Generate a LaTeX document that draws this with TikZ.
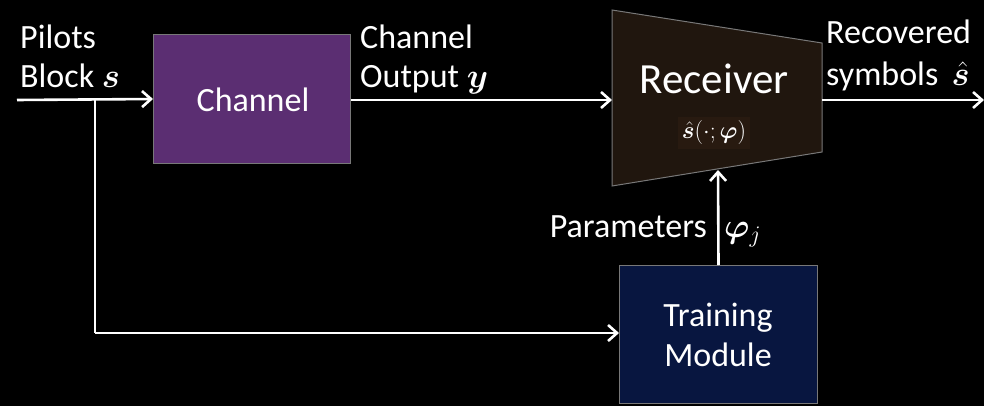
\RequirePackage{fix-cm}
\documentclass[tikz,border=0pt]{standalone}
\usepackage{amsmath,bm}
\usepackage{fontspec}
\setmainfont{Carlito}
\usetikzlibrary{arrows.meta}
\definecolor{chanpurple}{RGB}{91,46,114}
\definecolor{recbrown}{RGB}{32,22,14}
\definecolor{mathbg}{RGB}{40,26,16}
\definecolor{trainnavy}{RGB}{8,22,64}
\definecolor{glow}{RGB}{120,120,120}
\tikzset{
  conn/.style={draw=white, line width=2.6pt, -{Straight Barb[length=9pt,width=16pt,line width=2.6pt]}},
  plain/.style={draw=white, line width=2.6pt},
  lbl/.style={text=white, font=\fontsize{34}{40}\selectfont, inner sep=0pt},
  blk/.style={draw=glow, line width=1pt, inner sep=0pt},
}
\begin{document}
\begin{tikzpicture}[x=1pt,y=-1pt]
\fill[black] (0,0) rectangle (984,406);
\useasboundingbox (0,0) rectangle (984,406);
% Channel
\node[blk, fill=chanpurple, minimum width=197pt, minimum height=129pt, anchor=north west] (ch) at (153,34) {};
\node[lbl] (chl) at (253,100) {Channel};
% Receiver trapezoid
\coordinate (r1) at (612,10);
\coordinate (r2) at (822,43);
\coordinate (r3) at (822,152);
\coordinate (r4) at (612,186);
\draw[glow, line width=1pt, fill=recbrown] (r1) -- (r2) -- (r3) -- (r4) -- cycle;
\coordinate (rin) at (612,100);
\coordinate (rout) at (822,100);
\coordinate (rbot) at (718,170);
\node[lbl, font=\fontsize{43}{50}\selectfont, anchor=base] (rl) at (714,94) {Receiver};
\node[fill=mathbg, text=white, inner sep=4pt, font=\fontsize{24}{28}\selectfont] (rm) at (714,133) {$\hat{\bm{s}}(\cdot;\bm{\varphi})$};
% Training module
\node[blk, fill=trainnavy, minimum width=198pt, minimum height=138pt, anchor=north west] (tm) at (619,265) {};
\node[lbl, align=center] (tml) at (718,335) {Training\\Module};
% Labels
\node[lbl, anchor=base west] (p1) at (20,49) {Pilots};
\node[lbl, anchor=base west] (p2) at (20,88) {Block $\bm{s}$};
\node[lbl, anchor=base west] (c1) at (360,49) {Channel};
\node[lbl, anchor=base west] (c2) at (360,88) {Output $\bm{y}$};
\node[lbl, anchor=base west] (o1) at (826,44) {Recovered};
\node[lbl, anchor=base west] (o2) at (826,86) {symbols $\,\hat{\bm{s}}$};
\node[lbl, anchor=base east] (pa) at (707,237) {Parameters};
\node[lbl, anchor=base west] (ph) at (724,237) {$\bm{\varphi}_j$};
% Connectors
\coordinate (in) at (17,100);
\coordinate (br) at (95,100);
\coordinate (brd) at (95,333);
\coordinate (oend) at (984,100);
\draw[conn] (in) -- (ch.west);
\draw[plain] (br) -- (brd);
\draw[conn] (brd) -- (tm.west |- brd);
\draw[conn] (ch.east |- rin) -- (rin);
\draw[conn] (rout) -- (oend);
\draw[conn] (tm.north) -- (rbot);
\end{tikzpicture}
\end{document}
